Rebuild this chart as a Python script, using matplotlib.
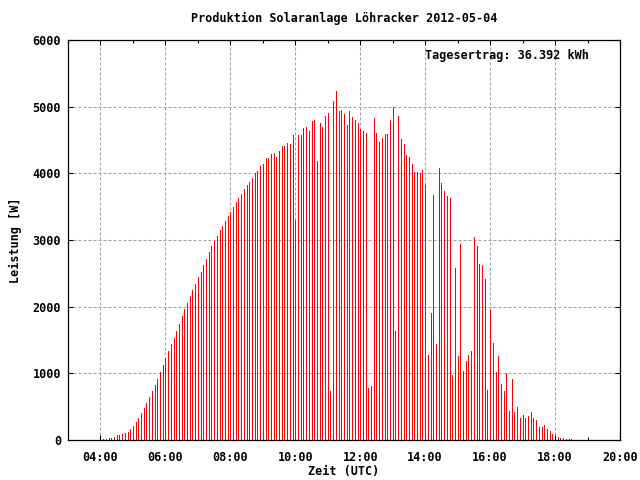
import numpy as np
import pandas as pd
import matplotlib
matplotlib.use('Agg')
import matplotlib.pyplot as plt
import matplotlib.dates as mdates

#%% data (5-minute values)

titel = 'Produktion Solaranlage Löhracker 2012-05-04'
ertrag = 'Tagesertrag: 36.392 kWh'
start = '2012-05-04 04:05'

leistung = [
    15, 15, 35, 35, 50, 70, 80, 95, 110, 125, 170, 215, 275, 335, 410, 485,
    560, 650, 740, 830, 920, 1025, 1130, 1235, 1340, 1445, 1535, 1640, 1745,
    1865, 1970,
    2050, 2154, 2244, 2333, 2438, 2527, 2632, 2721, 2826, 2915, 2990, 3065,
    3154, 3214, 3289, 3363, 3423, 3498, 3572, 3632, 3692, 3766, 3826, 3871,
    3930, 4005, 4035, 4109, 4139, 4229, 4229,
    4289, 4303, 4244, 4333, 4408, 4408, 4453, 4438, 4572, 3303, 4572, 4572,
    4677, 4692, 4632, 4781, 4796, 4184, 4751, 4692, 4856, 4900, 736, 5080,
    5229, 4930, 4945, 4886, 4721, 4930, 4841, 4796, 4751,
    4662, 4632, 4602, 781, 811, 4826, 4602, 4468, 4527, 4587, 4587, 4796,
    4990, 1632, 4856, 4512, 4438, 4274, 4244, 4139, 4020, 4020, 4005, 4050,
    3826, 1274, 1900, 3677, 1438, 4080, 3856, 3736,
    3660, 3630,
    975, 2587, 1259, 2945, 1035, 1184, 1274, 1333, 3050, 2915, 2647, 2632,
    2408, 751, 1945, 1453, 1020, 1259, 841, 736, 1005, 438, 915, 423, 498,
    333, 378, 333, 363, 423,
    330, 300, 195, 195, 225, 165, 135, 90, 0, 45, 30, 30, 15, 15, 15,
]

zeit = pd.date_range(start, periods=len(leistung), freq='5min')

#%% plot

plt.rcParams['font.family'] = 'DejaVu Sans Mono'
plt.rcParams['font.weight'] = 'bold'
plt.rcParams['font.size'] = 8.5

fig = plt.figure(figsize=(6.4, 4.8), dpi=100)
ax = fig.add_axes([68/640, 40/480, 552/640, 400/480])

ax.vlines(zeit, 0, leistung, colors='#ff0000', linewidths=0.5,
          antialiaseds=False, zorder=2)

ax.set_xlim(pd.Timestamp('2012-05-04 03:00'), pd.Timestamp('2012-05-04 20:00'))
ax.set_ylim(0, 6000)
ax.set_yticks(range(0, 6001, 1000))
ax.xaxis.set_major_locator(mdates.HourLocator(byhour=range(4, 21, 2)))
ax.xaxis.set_minor_locator(mdates.HourLocator(byhour=range(3, 21, 2)))
ax.xaxis.set_major_formatter(mdates.DateFormatter('%H:%M'))

ax.set_axisbelow(True)
ax.grid(True, which='major', color='#a0a0a0', linestyle=(0, (2.9, 1.9)),
        linewidth=0.75)
ax.tick_params(which='both', direction='in', top=True, right=True,
               color='black', width=0.75)
ax.tick_params(which='major', length=3.5)
ax.tick_params(which='minor', length=2)
ax.tick_params(axis='x', pad=8)
ax.tick_params(axis='y', pad=5)
for s in ax.spines.values():
    s.set_linewidth(0.9)

fig.text(344/640, 1 - 18/480, titel, ha='center', va='center')
fig.text(344/640, 1 - 472/480, 'Zeit (UTC)', ha='center', va='center')
fig.text(15/640, 1 - 240/480, 'Leistung [W]', ha='center', va='center',
         rotation=90)
fig.text(425/640, 1 - 56/480, ertrag, ha='left', va='center')

fig.savefig('out.png', dpi=100)
